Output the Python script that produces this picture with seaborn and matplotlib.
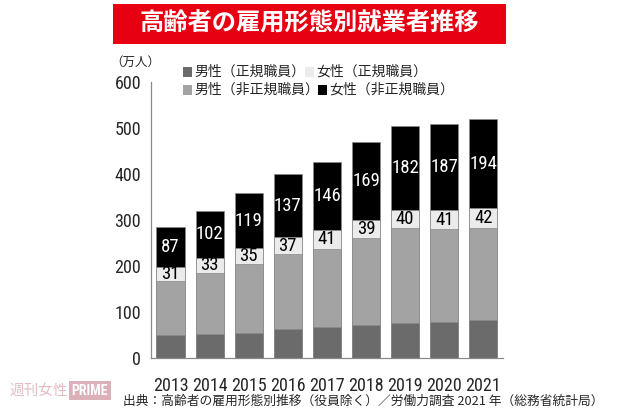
import matplotlib
matplotlib.use('Agg')
import matplotlib.pyplot as plt
from matplotlib.patches import Rectangle
import seaborn as sns

# data (万人)
years = ['2013', '2014', '2015', '2016', '2017', '2018', '2019', '2020', '2021']
male_regular = [50, 53, 55, 62, 68, 71, 75, 78, 83]
male_nonregular = [117, 132, 149, 163, 170, 190, 207, 202, 200]
female_regular = [31, 33, 35, 37, 41, 39, 40, 41, 42]
female_nonregular = [87, 102, 119, 137, 146, 169, 182, 187, 194]

series_names = ['男性（正規職員）', '女性（正規職員）', '男性（非正規職員）', '女性（非正規職員）']
colors = ['#6b6b6b', '#ebebeb', '#a3a3a3', '#000000']

sns.set_style('white')
plt.rcParams['font.family'] = ['Noto Sans CJK JP', 'DejaVu Sans']
num_font = ['Roboto Condensed', 'DejaVu Sans']

# cumulative levels for the overlay stacking
lvl1 = male_regular
lvl2 = [a + b for a, b in zip(lvl1, male_nonregular)]
lvl3 = [a + b for a, b in zip(lvl2, female_regular)]
lvl4 = [a + b for a, b in zip(lvl3, female_nonregular)]

fig = plt.figure(figsize=(6.2, 4.13), dpi=100)
ax = fig.add_axes([0.2435, 0.1332, 0.5677, 0.6683])

for level, col in zip([lvl4, lvl3, lvl2, lvl1], [colors[3], colors[1], colors[2], colors[0]]):
    sns.barplot(x=years, y=level, color=col, saturation=1, width=0.72,
                edgecolor='#8a8a8a', linewidth=0.5, ax=ax)

# value labels for the female segments
for i in range(len(years)):
    ax.text(i, (lvl2[i] + lvl3[i]) / 2, str(female_regular[i]), ha='center', va='center',
            fontsize=13.5, color='black', family=num_font)
    ax.text(i, (lvl3[i] + lvl4[i]) / 2, str(female_nonregular[i]), ha='center', va='center',
            fontsize=13.5, color='white', family=num_font)

ax.set_ylim(0, 600)
ax.set_xlim(-0.5, 8.5)
ax.set_yticks(range(0, 601, 100))
ax.set_xticks([i - 0.5 for i in range(10)], minor=True)
for s in ['top', 'right']:
    ax.spines[s].set_visible(False)
for s in ['left', 'bottom']:
    ax.spines[s].set_color('#8a8a8a')
    ax.spines[s].set_linewidth(0.9)
ax.tick_params(axis='y', direction='in', length=5, color='#8a8a8a', pad=7, labelsize=13)
ax.tick_params(axis='x', which='major', length=0, pad=14, labelsize=13)
ax.tick_params(axis='x', which='minor', direction='in', length=5, color='#8a8a8a')
for lab in ax.get_yticklabels() + ax.get_xticklabels():
    lab.set_family(num_font)

# title banner
fig.patches.append(Rectangle((0.1823, 0.8935), 0.634, 0.097, transform=fig.transFigure,
                             facecolor='#e60012', edgecolor='none'))
fig.text(0.499, 0.942, '高齢者の雇用形態別就業者推移', ha='center', va='center',
         color='white', fontsize=17.5, fontweight='bold')

# unit label
fig.text(0.218, 0.848, '（万人）', ha='center', va='center', fontsize=9)

# legend
legend_items = [
    (183, 72, 0), (305, 72, 1),
    (183, 90, 2), (318, 90, 3),
]
for px, py, k in legend_items:
    fig.patches.append(Rectangle((px / 620, 1 - (py + 5) / 413), 9 / 620, 10 / 413,
                                 transform=fig.transFigure, facecolor=colors[k],
                                 edgecolor='none'))
    fig.text((px + 11) / 620, 1 - py / 413, series_names[k], ha='left', va='center',
             fontsize=10)

# source
fig.text(0.198, 0.029, '出典：高齢者の雇用形態別推移（役員除く）／労働力調査 2021 年（総務省統計局）',
         ha='left', va='center', fontsize=9.2)

# watermark
fig.text(0.015, 0.054, '週刊女性', ha='left', va='center', fontsize=10.5, color='#e2bcc2')
fig.text(0.115, 0.054, 'PRIME', ha='left', va='center', fontsize=10, color='white',
         fontweight='bold', family=num_font,
         bbox=dict(facecolor='#dcb0b8', edgecolor='none', pad=2))

fig.savefig('out.png', dpi=100)
